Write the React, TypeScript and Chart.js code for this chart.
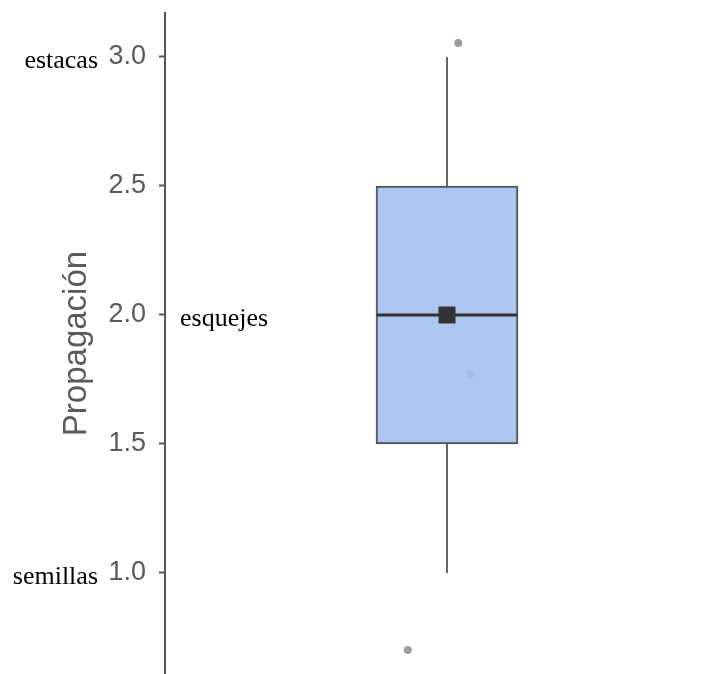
import React, { useEffect, useRef } from "react";
import { Chart, registerables } from "chart.js";

Chart.register(...registerables);

// ---- data ----
const axisTitle = "Propagación";
const tickValues = [1.0, 1.5, 2.0, 2.5, 3.0];
const levelLabels = ["semillas", "esquejes", "estacas"];
const levelValues = [1, 2, 3];
const levelSide = ["left", "right", "left"];

const groupX = 1;
const whiskerLow = 1.0;
const q1 = 1.5;
const median = 2.0;
const q3 = 2.5;
const whiskerHigh = 3.0;
const mean = 2.0;

const pointValues = [3.054, 1.771, 0.702];
const pointJitterX = [1.04, 1.083, 0.861];

const yMin = 0.6085;
const yMax = 3.1705;
const xMin = 0;
const xMax = 1.922;

const PAD_LEFT = 53;
const AXIS_X = 165;

export default function App() {
  const ref = useRef<HTMLCanvasElement | null>(null);

  useEffect(() => {
    if (!ref.current) return;
    const boxIndex = 2;

    const medianPlugin = {
      id: "medianLine",
      afterDatasetDraw(chart: any, args: any) {
        if (args.index !== boxIndex) return;
        const el = args.meta.data[0];
        if (!el) return;
        const { x, width } = el.getProps(["x", "width"], true);
        const y = chart.scales.y.getPixelForValue(median);
        const ctx = chart.ctx;
        ctx.save();
        ctx.strokeStyle = "#333333";
        ctx.lineWidth = 3;
        ctx.beginPath();
        ctx.moveTo(x - width / 2 + 1, y);
        ctx.lineTo(x + width / 2 - 1, y);
        ctx.stroke();
        ctx.restore();
      },
    };

    const levelPlugin = {
      id: "levelLabels",
      afterDraw(chart: any) {
        const ctx = chart.ctx;
        const ys = chart.scales.y;
        const left = chart.chartArea.left;
        ctx.save();
        ctx.font = '26px "Liberation Serif", "Times New Roman", serif';
        ctx.fillStyle = "#000000";
        ctx.textBaseline = "alphabetic";
        levelLabels.forEach((lab, i) => {
          const y = ys.getPixelForValue(levelValues[i]) + 11;
          if (levelSide[i] === "left") {
            ctx.textAlign = "right";
            ctx.fillText(lab, left - 67, y);
          } else {
            ctx.textAlign = "left";
            ctx.fillText(lab, left + 15, y);
          }
        });
        ctx.restore();
      },
    };

    const chart = new Chart(ref.current, {
      type: "bar",
      data: {
        datasets: [
          {
            type: "scatter",
            label: "points",
            data: pointValues.map((v, i) => ({ x: pointJitterX[i], y: v })),
            backgroundColor: "#9c9c9c",
            borderWidth: 0,
            pointRadius: 4,
            order: 5,
          } as any,
          {
            type: "line",
            label: "whiskerHigh",
            data: [
              { x: groupX, y: q3 },
              { x: groupX, y: whiskerHigh },
            ],
            borderColor: "#666666",
            borderWidth: 2,
            pointRadius: 0,
            order: 4,
          } as any,
          {
            type: "bar",
            label: "box",
            data: [{ x: groupX, y: [q1, q3] }],
            backgroundColor: "rgba(165,194,238,0.92)",
            borderColor: "#555555",
            borderWidth: 2,
            borderSkipped: false,
            barThickness: 142,
            order: 2,
          } as any,
          {
            type: "line",
            label: "whiskerLow",
            data: [
              { x: groupX, y: whiskerLow },
              { x: groupX, y: q1 },
            ],
            borderColor: "#666666",
            borderWidth: 2,
            pointRadius: 0,
            order: 3,
          } as any,
          {
            type: "scatter",
            label: "mean",
            data: [{ x: groupX, y: mean }],
            pointStyle: "rect",
            pointRadius: 12,
            backgroundColor: "#333333",
            borderWidth: 0,
            order: 1,
          } as any,
        ],
      },
      options: {
        animation: false,
        responsive: false,
        events: [],
        layout: { padding: { left: PAD_LEFT, top: 13, right: 0, bottom: 14 } },
        plugins: {
          legend: { display: false },
          tooltip: { enabled: false },
        },
        scales: {
          x: {
            type: "linear",
            min: xMin,
            max: xMax,
            display: false,
            offset: false,
          },
          y: {
            type: "linear",
            min: yMin,
            max: yMax,
            afterBuildTicks: (scale: any) => {
              scale.ticks = tickValues.map((v) => ({ value: v }));
            },
            afterFit: (scale: any) => {
              scale.width = AXIS_X - PAD_LEFT;
              scale.paddingTop = 0;
              scale.paddingBottom = 0;
            },
            border: { display: true, color: "#555555", width: 2 },
            grid: {
              display: true,
              drawOnChartArea: false,
              drawTicks: true,
              tickLength: 6,
              tickWidth: 2,
              tickColor: "#555555",
              color: "#555555",
            },
            ticks: {
              padding: 13,
              color: "#5a5a5a",
              font: { family: '"Liberation Sans", Arial, sans-serif', size: 27, lineHeight: 1 },
              callback: (v: any) => Number(v).toFixed(1),
            },
            title: {
              display: true,
              text: axisTitle,
              color: "#5a5a5a",
              font: { family: '"Liberation Sans", Arial, sans-serif', size: 33, lineHeight: 1.2 },
              padding: { top: 4, bottom: 4 },
            },
          },
        },
      },
      plugins: [medianPlugin, levelPlugin],
    } as any);

    return () => chart.destroy();
  }, []);

  return (
    <div style={{ position: "absolute", left: 0, top: 0, width: 719, height: 688, overflow: "visible" }}>
      <canvas ref={ref} width={719} height={688} />
    </div>
  );
}
